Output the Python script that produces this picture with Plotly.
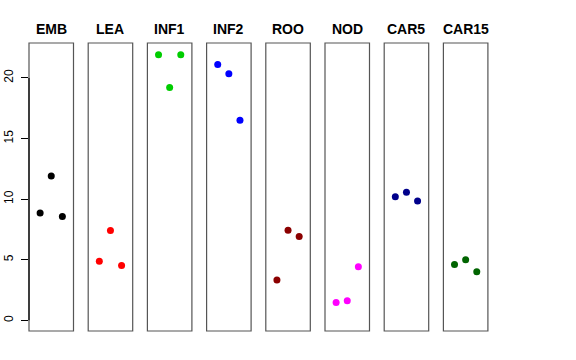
import plotly.graph_objects as go

categories = ["EMB", "LEA", "INF1", "INF2", "ROO", "NOD", "CAR5", "CAR15"]
emb = [8.86, 11.9, 8.56]
lea = [4.88, 7.41, 4.53]
inf1 = [21.92, 19.2, 21.92]
inf2 = [21.1, 20.35, 16.5]
roo = [3.32, 7.43, 6.91]
nod = [1.48, 1.62, 4.42]
car5 = [10.2, 10.56, 9.85]
car15 = [4.6, 5.0, 4.0]
series = [emb, lea, inf1, inf2, roo, nod, car5, car15]
colors = ["#000000", "#FF0000", "#00CD00", "#0000FF", "#8B0000", "#FF00FF", "#00008B", "#006400"]
replicates = [1, 2, 3]
y_ticks = [0, 5, 10, 15, 20]

W, H = 576, 360
left0, step, pw = 29.0, 59.2, 44.5
top_px, bot_px = 43.0, 331.0

fig = go.Figure()
layout = dict(
    width=W, height=H,
    margin=dict(l=0, r=0, t=0, b=0, autoexpand=False),
    paper_bgcolor="white", plot_bgcolor="white",
    showlegend=False,
    font=dict(family="Liberation Sans, Arial, sans-serif", color="black", size=12),
)
shapes = []
annotations = []
for i, (cat, vals, col) in enumerate(zip(categories, series, colors)):
    ax = "x" if i == 0 else f"x{i+1}"
    axkey = "xaxis" if i == 0 else f"xaxis{i+1}"
    l = (left0 + step * i) / W
    r = (left0 + step * i + pw) / W
    layout[axkey] = dict(domain=[l, r], range=[0, 4], visible=False, anchor="y",
                         fixedrange=True, automargin=False)
    fig.add_trace(go.Scatter(
        x=replicates, y=vals, mode="markers", xaxis=ax, yaxis="y",
        marker=dict(color=col, size=7, line=dict(width=0)),
    ))
    shapes.append(dict(type="rect", xref=f"{ax} domain", yref="y domain",
                       x0=0, x1=1, y0=0, y1=1, line=dict(color="#555555", width=1.2),
                       fillcolor="rgba(0,0,0,0)", layer="above"))
    annotations.append(dict(text=f"<b>{cat}</b>", xref=f"{ax} domain", yref="paper",
                            x=0.5, y=1 - 39 / H, xanchor="center", yanchor="bottom",
                            showarrow=False, font=dict(size=14, color="black")))

shapes.append(dict(type="line", xref="x domain", yref="y", x0=0, x1=0, y0=0, y1=20,
                   line=dict(color="black", width=1.2), layer="above"))

layout["yaxis"] = dict(
    domain=[1 - bot_px / H, 1 - top_px / H], range=[-0.88, 22.88],
    tickvals=y_ticks, ticktext=[str(v) for v in y_ticks],
    ticks="outside", ticklen=7, tickwidth=1, tickcolor="black",
    tickangle=-90, showgrid=False, zeroline=False, showline=False,
    tickfont=dict(size=12, color="black"), anchor="x", fixedrange=True,
    automargin=False, ticklabelstandoff=3,
)
layout["shapes"] = shapes
layout["annotations"] = annotations
fig.update_layout(**layout)
fig.write_html("out.html", post_script="document.body.style.margin='0';",
               config={"displayModeBar": False})
